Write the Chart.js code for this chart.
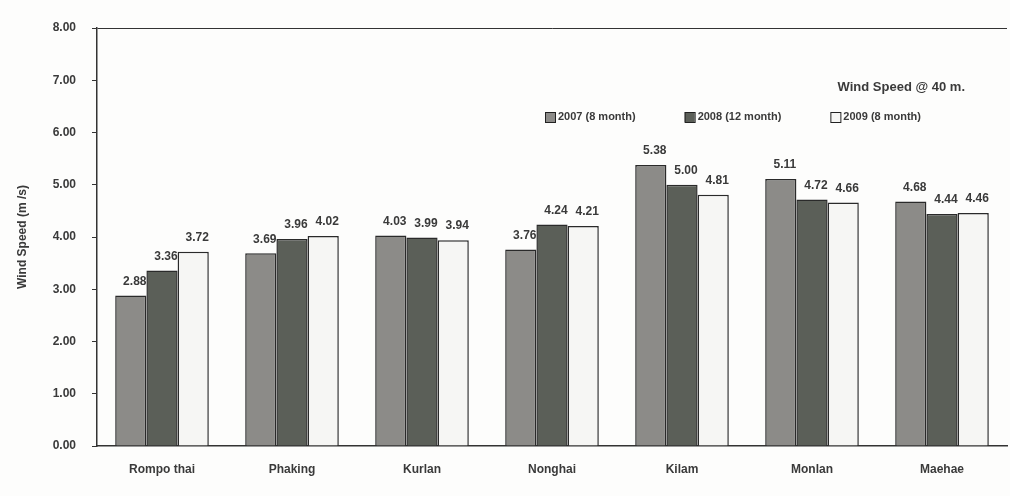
<!DOCTYPE html>
<html>
<head>
<meta charset="utf-8">
<script src="https://cdn.jsdelivr.net/npm/chart.js@4"></script>
<style>
  html, body { margin: 0; padding: 0; background: #fdfdfc; }
  #wrap { width: 1010px; height: 496px; position: relative; }
</style>
</head>
<body>
<div id="wrap"><canvas id="wind-canvas" width="1010" height="496"></canvas></div>
<script>
// sites and wind speed at 40 m, one array per measuring period
const sites = ['Rompo thai', 'Phaking', 'Kurlan', 'Nonghai', 'Kilam', 'Monlan', 'Maehae'];
const y2007 = [2.88, 3.69, 4.03, 3.76, 5.38, 5.11, 4.68];
const y2008 = [3.36, 3.96, 3.99, 4.24, 5.00, 4.72, 4.44];
const y2009 = [3.72, 4.02, 3.94, 4.21, 4.81, 4.66, 4.46];
const seriesNames = ['2007 (8 month)', '2008 (12 month)', '2009 (8 month)'];
const yTicks = [0, 1, 2, 3, 4, 5, 6, 7, 8];

const textColor = '#3a3a3a';
Chart.defaults.font.family = "'Liberation Sans', Arial, sans-serif";
Chart.defaults.color = textColor;

// draws the value above each bar
const valueLabels = {
    id: 'valueLabels',
    afterDatasetsDraw(chart) {
        const ctx = chart.ctx;
        ctx.save();
        ctx.font = "bold 12px 'Liberation Sans', Arial, sans-serif";
        ctx.fillStyle = textColor;
        ctx.textAlign = 'center';
        ctx.textBaseline = 'bottom';
        chart.data.datasets.forEach((ds, i) => {
            chart.getDatasetMeta(i).data.forEach((bar, j) => {
                ctx.fillText(ds.data[j].toFixed(2), bar.x + 4, bar.y - 8);
            });
        });
        ctx.restore();
    }
};

// title and legend sitting inside the plot, top right
const insideLegend = {
    id: 'insideLegend',
    afterDraw(chart) {
        const ctx = chart.ctx;
        const fills = chart.data.datasets.map(d => d.backgroundColor);
        ctx.save();
        ctx.fillStyle = textColor;
        ctx.font = "bold 13px 'Liberation Sans', Arial, sans-serif";
        ctx.textBaseline = 'middle';
        ctx.textAlign = 'right';
        ctx.fillText('Wind Speed @ 40 m.', 965, 87);
        ctx.textAlign = 'left';
        ctx.font = "bold 11px 'Liberation Sans', Arial, sans-serif";
        let x = 545;
        seriesNames.forEach((name, i) => {
            ctx.fillStyle = fills[i];
            ctx.strokeStyle = '#222';
            ctx.lineWidth = 1;
            ctx.fillRect(x, 112, 10, 10);
            ctx.strokeRect(x + 0.5, 112.5, 10, 10);
            ctx.fillStyle = textColor;
            ctx.fillText(name, x + 13, 117);
            x += ctx.measureText(name).width + 62;
        });
        ctx.restore();
    }
};

const ctx = document.getElementById('wind-canvas');
new Chart(ctx, {
    type: 'bar',
    data: {
        labels: sites,
        datasets: [
            { label: seriesNames[0], data: y2007, backgroundColor: '#8c8b88', borderColor: '#2a2a2a', borderWidth: 1.5 },
            { label: seriesNames[1], data: y2008, backgroundColor: '#5b5f58', borderColor: '#2a2a2a', borderWidth: 1.5 },
            { label: seriesNames[2], data: y2009, backgroundColor: '#f6f6f4', borderColor: '#2a2a2a', borderWidth: 1.5 }
        ]
    },
    plugins: [valueLabels, insideLegend],
    options: {
        responsive: false,
        animation: false,
        layout: { padding: { top: 28, right: 3, left: 15, bottom: 0 } },
        plugins: {
            legend: { display: false },
            tooltip: { enabled: false }
        },
        datasets: { bar: { categoryPercentage: 0.72, barPercentage: 1.0 } },
        scales: {
            x: {
                grid: { display: false, drawTicks: false },
                border: { color: '#333', width: 1.5 },
                ticks: { font: { size: 12, weight: 'bold' }, padding: 16 },
                afterFit: (s) => { s.height = 50; }
            },
            y: {
                min: 0,
                max: 8,
                afterBuildTicks: (s) => { s.ticks = yTicks.map(v => ({ value: v })); },
                grid: {
                    drawOnChartArea: true,
                    color: (c) => c.tick && c.tick.value === 8 ? '#333' : 'transparent',
                    tickColor: '#333',
                    tickLength: 5
                },
                border: { color: '#333', width: 1.5 },
                ticks: {
                    font: { size: 12, weight: 'bold' },
                    padding: 16,
                    callback: (v) => Number(v).toFixed(2)
                },
                title: {
                    display: true,
                    text: 'Wind Speed (m /s)',
                    font: { size: 12, weight: 'bold' },
                    padding: { top: 0, bottom: 4 }
                },
                afterFit: (s) => { s.width = 82; }
            }
        }
    }
});
</script>
</body>
</html>
